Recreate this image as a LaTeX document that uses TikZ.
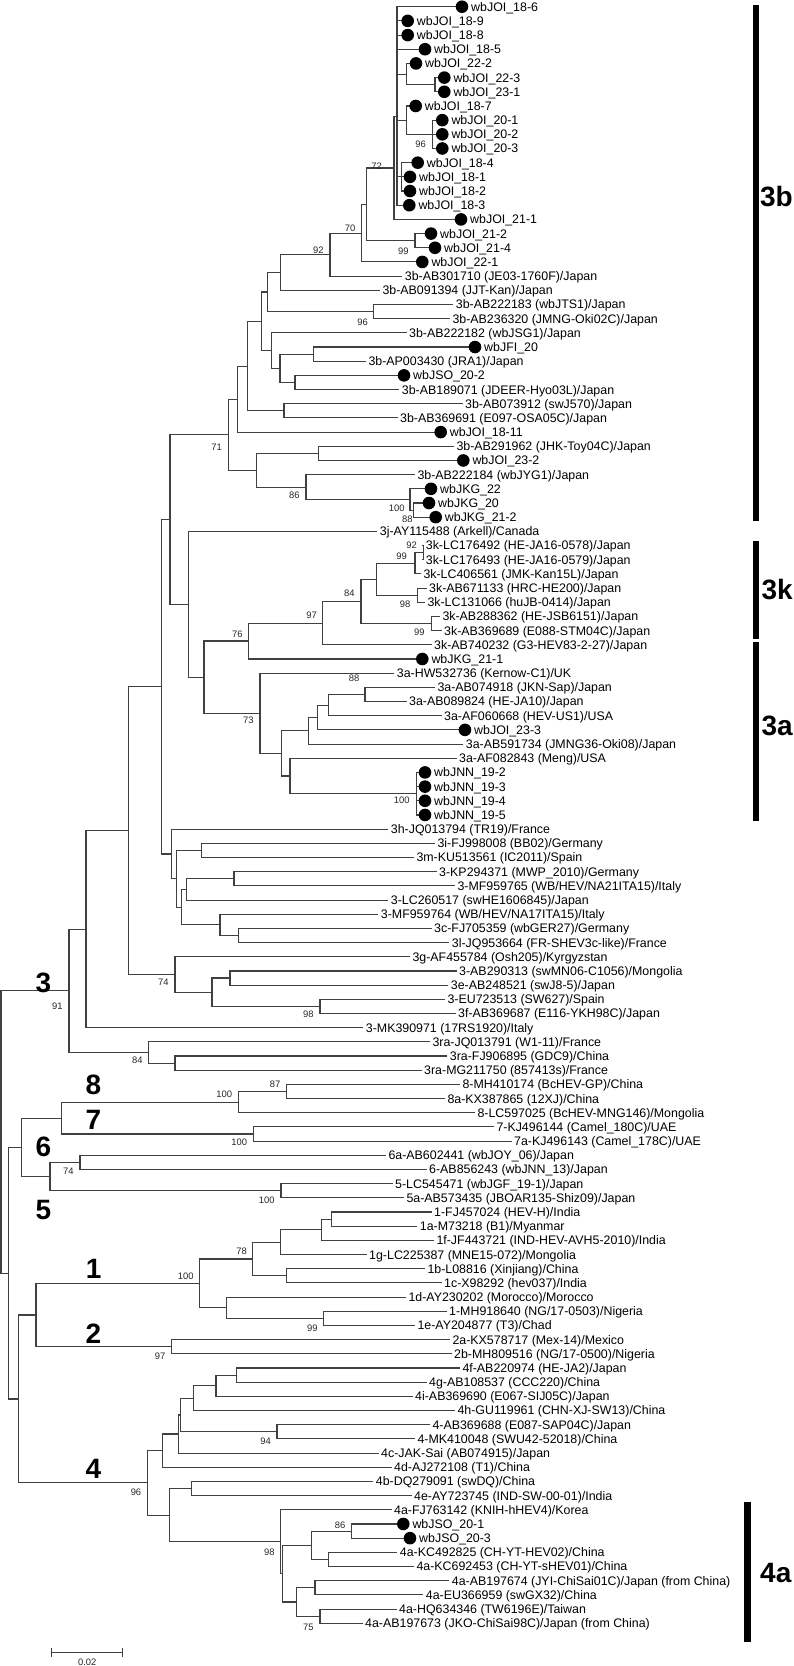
\documentclass[tikz,border=0pt]{standalone}
\usepackage{fontspec}
\setmainfont{Liberation Sans}
\usetikzlibrary{calc,backgrounds}
\tikzset{
  br/.style={draw=black!75, line width=1.1pt, line cap=rect},
  lab/.style={anchor=west, inner xsep=3pt, inner ysep=0pt, text height=8.9pt, text depth=0pt, font=\fontsize{12.4}{14}\selectfont},
  dot/.style={circle, fill=black, draw=none, inner sep=0pt, minimum size=12.6pt},
  bs/.style={font=\fontsize{9.4}{11}\selectfont, text=black!85, inner sep=0pt},
  big/.style={font=\fontsize{28}{30}\selectfont\bfseries, inner sep=0pt},
  cbar/.style={line width=6.5pt, draw=black},
}
\newcommand\ylf[1]{6.7+(#1-1)*14.18}
\newcommand\leafT[3]{\coordinate (l#1) at ({#2-4},{\ylf{#1}}); \node[lab] (t#1) at (l#1) {#3};}
\newcommand\leafC[3]{\coordinate (l#1) at (#2,{\ylf{#1}}); \node[dot] (d#1) at (l#1) {}; \node[lab] (t#1) at ([xshift=6pt]l#1) {#3};}
\newcommand\inode[4]{\path let \p1=(#3), \p2=(#4) in coordinate (#1) at (#2pt,{0.5*\y1+0.5*\y2});}
\newcommand\edges[2]{\foreach \ch in {#2} {\draw[br] (#1) |- (\ch);}}
\begin{document}
\begin{tikzpicture}[x=1pt,y=-1pt]
\useasboundingbox (0,0) rectangle (794,1666);
% ---------------- leaves ----------------
\leafC{1}{462}{wbJOI\_18-6}
\leafC{2}{407.7}{wbJOI\_18-9}
\leafC{3}{407.7}{wbJOI\_18-8}
\leafC{4}{425}{wbJOI\_18-5}
\leafC{5}{416}{wbJOI\_22-2}
\leafC{6}{444.3}{wbJOI\_22-3}
\leafC{7}{444.3}{wbJOI\_23-1}
\leafC{8}{415.7}{wbJOI\_18-7}
\leafC{9}{442.3}{wbJOI\_20-1}
\leafC{10}{442.3}{wbJOI\_20-2}
\leafC{11}{442.3}{wbJOI\_20-3}
\leafC{12}{417.7}{wbJOI\_18-4}
\leafC{13}{410}{wbJOI\_18-1}
\leafC{14}{410}{wbJOI\_18-2}
\leafC{15}{409.3}{wbJOI\_18-3}
\leafC{16}{461}{wbJOI\_21-1}
\leafC{17}{431}{wbJOI\_21-2}
\leafC{18}{435}{wbJOI\_21-4}
\leafC{19}{422.3}{wbJOI\_22-1}
\leafT{20}{405.7}{3b-AB301710 (JE03-1760F)/Japan}
\leafT{21}{383.3}{3b-AB091394 (JJT-Kan)/Japan}
\leafT{22}{456.7}{3b-AB222183 (wbJTS1)/Japan}
\leafT{23}{453.3}{3b-AB236320 (JMNG-Oki02C)/Japan}
\leafT{24}{410}{3b-AB222182 (wbJSG1)/Japan}
\leafC{25}{475}{wbJFI\_20}
\leafT{26}{369.3}{3b-AP003430 (JRA1)/Japan}
\leafC{27}{404}{wbJSO\_20-2}
\leafT{28}{402.7}{3b-AB189071 (JDEER-Hyo03L)/Japan}
\leafT{29}{466}{3b-AB073912 (swJ570)/Japan}
\leafT{30}{401}{3b-AB369691 (E097-OSA05C)/Japan}
\leafC{31}{440.7}{wbJOI\_18-11}
\leafT{32}{457.3}{3b-AB291962 (JHK-Toy04C)/Japan}
\leafC{33}{463.3}{wbJOI\_23-2}
\leafT{34}{418.3}{3b-AB222184 (wbJYG1)/Japan}
\leafC{35}{431}{wbJKG\_22}
\leafC{36}{429}{wbJKG\_20}
\leafC{37}{435.7}{wbJKG\_21-2}
\leafT{38}{380.7}{3j-AY115488 (Arkell)/Canada}
\leafT{39}{426.7}{3k-LC176492 (HE-JA16-0578)/Japan}
\leafT{40}{426.7}{3k-LC176493 (HE-JA16-0579)/Japan}
\leafT{41}{424.3}{3k-LC406561 (JMK-Kan15L)/Japan}
\leafT{42}{430}{3k-AB671133 (HRC-HE200)/Japan}
\leafT{43}{428.3}{3k-LC131066 (huJB-0414)/Japan}
\leafT{44}{443.3}{3k-AB288362 (HE-JSB6151)/Japan}
\leafT{45}{445}{3k-AB369689 (E088-STM04C)/Japan}
\leafT{46}{435}{3k-AB740232 (G3-HEV83-2-27)/Japan}
\leafC{47}{422.3}{wbJKG\_21-1}
\leafT{48}{397.7}{3a-HW532736 (Kernow-C1)/UK}
\leafT{49}{438.3}{3a-AB074918 (JKN-Sap)/Japan}
\leafT{50}{410}{3a-AB089824 (HE-JA10)/Japan}
\leafT{51}{445}{3a-AF060668 (HEV-US1)/USA}
\leafC{52}{465}{wbJOI\_23-3}
\leafT{53}{466.7}{3a-AB591734 (JMNG36-Oki08)/Japan}
\leafT{54}{460}{3a-AF082843 (Meng)/USA}
\leafC{55}{425}{wbJNN\_19-2}
\leafC{56}{425}{wbJNN\_19-3}
\leafC{57}{425}{wbJNN\_19-4}
\leafC{58}{425}{wbJNN\_19-5}
\leafT{59}{391.7}{3h-JQ013794 (TR19)/France}
\leafT{60}{438.3}{3i-FJ998008 (BB02)/Germany}
\leafT{61}{417.3}{3m-KU513561 (IC2011)/Spain}
\leafT{62}{440}{3-KP294371 (MWP\_2010)/Germany}
\leafT{63}{458.3}{3-MF959765 (WB/HEV/NA21ITA15)/Italy}
\leafT{64}{391.7}{3-LC260517 (swHE1606845)/Japan}
\leafT{65}{381.7}{3-MF959764 (WB/HEV/NA17ITA15)/Italy}
\leafT{66}{435}{3c-FJ705359 (wbGER27)/Germany}
\leafT{67}{452.7}{3l-JQ953664 (FR-SHEV3c-like)/France}
\leafT{68}{413.3}{3g-AF455784 (Osh205)/Kyrgyzstan}
\leafT{69}{460}{3-AB290313 (swMN06-C1056)/Mongolia}
\leafT{70}{451.7}{3e-AB248521 (swJ8-5)/Japan}
\leafT{71}{448.3}{3-EU723513 (SW627)/Spain}
\leafT{72}{459}{3f-AB369687 (E116-YKH98C)/Japan}
\leafT{73}{366.7}{3-MK390971 (17RS1920)/Italy}
\leafT{74}{433.3}{3ra-JQ013791 (W1-11)/France}
\leafT{75}{450.7}{3ra-FJ906895 (GDC9)/China}
\leafT{76}{425}{3ra-MG211750 (857413s)/France}
\leafT{77}{463.3}{8-MH410174 (BcHEV-GP)/China}
\leafT{78}{448.3}{8a-KX387865 (12XJ)/China}
\leafT{79}{478.3}{8-LC597025 (BcHEV-MNG146)/Mongolia}
\leafT{80}{497.3}{7-KJ496144 (Camel\_180C)/UAE}
\leafT{81}{515}{7a-KJ496143 (Camel\_178C)/UAE}
\leafT{82}{389.3}{6a-AB602441 (wbJOY\_06)/Japan}
\leafT{83}{430}{6-AB856243 (wbJNN\_13)/Japan}
\leafT{84}{396}{5-LC545471 (wbJGF\_19-1)/Japan}
\leafT{85}{407.3}{5a-AB573435 (JBOAR135-Shiz09)/Japan}
\leafT{86}{435}{1-FJ457024 (HEV-H)/India}
\leafT{87}{420.7}{1a-M73218 (B1)/Myanmar}
\leafT{88}{437.3}{1f-JF443721 (IND-HEV-AVH5-2010)/India}
\leafT{89}{370}{1g-LC225387 (MNE15-072)/Mongolia}
\leafT{90}{428.3}{1b-L08816 (Xinjiang)/China}
\leafT{91}{445}{1c-X98292 (hev037)/India}
\leafT{92}{409.3}{1d-AY230202 (Morocco)/Morocco}
\leafT{93}{450}{1-MH918640 (NG/17-0503)/Nigeria}
\leafT{94}{418.3}{1e-AY204877 (T3)/Chad}
\leafT{95}{453.3}{2a-KX578717 (Mex-14)/Mexico}
\leafT{96}{455}{2b-MH809516 (NG/17-0500)/Nigeria}
\leafT{97}{463.3}{4f-AB220974 (HE-JA2)/Japan}
\leafT{98}{430}{4g-AB108537 (CCC220)/China}
\leafT{99}{416}{4i-AB369690 (E067-SIJ05C)/Japan}
\leafT{100}{458.3}{4h-GU119961 (CHN-XJ-SW13)/China}
\leafT{101}{433.3}{4-AB369688 (E087-SAP04C)/Japan}
\leafT{102}{418.3}{4-MK410048 (SWU42-52018)/China}
\leafT{103}{382}{4c-JAK-Sai (AB074915)/Japan}
\leafT{104}{395}{4d-AJ272108 (T1)/China}
\leafT{105}{376.7}{4b-DQ279091 (swDQ)/China}
\leafT{106}{415}{4e-AY723745 (IND-SW-00-01)/India}
\leafT{107}{395}{4a-FJ763142 (KNIH-hHEV4)/Korea}
\leafC{108}{403.3}{wbJSO\_20-1}
\leafC{109}{410}{wbJSO\_20-3}
\leafT{110}{400.7}{4a-KC492825 (CH-YT-HEV02)/China}
\leafT{111}{417.3}{4a-KC692453 (CH-YT-sHEV01)/China}
\leafT{112}{452.7}{4a-AB197674 (JYI-ChiSai01C)/Japan (from China)}
\leafT{113}{426.7}{4a-EU366959 (swGX32)/China}
\leafT{114}{400}{4a-HQ634346 (TW6196E)/Taiwan}
\leafT{115}{366}{4a-AB197673 (JKO-ChiSai98C)/Japan (from China)}
% ---------------- internal nodes ----------------
\inode{nA1}{397}{l1}{l4}
\inode{nB1}{435}{l6}{l7}
\inode{nB2}{406.7}{l5}{nB1}
\inode{nC1}{432.7}{l9}{l11}
\inode{nC2}{406.7}{l8}{nC1}
\inode{nD1}{401.7}{l12}{l14}
\inode{nX}{397}{nA1}{l15}
\inode{nT72}{394}{nX}{l16}
\inode{nE}{415}{l17}{l18}
\inode{nF}{366.7}{nT72}{nE}
\inode{nG70}{361.7}{nF}{l19}
\inode{nG}{330}{nG70}{l20}
\inode{nH92}{280.7}{nG}{l21}
\inode{nI96}{373.3}{l22}{l23}
\inode{nH}{267.5}{nH92}{nI96}
\inode{nI}{313.3}{l25}{l26}
\inode{nJ}{295}{l27}{l28}
\inode{nK}{280}{nI}{nJ}
\inode{nL}{271.7}{l24}{nK}
\inode{nM}{261.5}{nH}{nL}
\inode{nN}{284}{l29}{l30}
\inode{nO}{247.7}{nM}{nN}
\inode{nP}{237.7}{nO}{l31}
\inode{nQ}{318.3}{l32}{l33}
\inode{nJKGb}{413.3}{l36}{l37}
\inode{nJKG}{410}{l35}{nJKGb}
\inode{nR86}{306}{l34}{nJKG}
\inode{nR}{256.7}{nQ}{nR86}
\inode{nS}{228.3}{nP}{nR}
\inode{nk92}{423.3}{l39}{l40}
\inode{nk99}{415}{nk92}{l41}
\inode{nk98}{417.3}{l42}{l43}
\inode{nkT}{376.7}{nk99}{nk98}
\inode{nk99b}{431.7}{l44}{l45}
\inode{nk84}{361}{nkT}{nk99b}
\inode{nk97}{322.7}{nk84}{l46}
\inode{nk76}{248.3}{nk97}{l47}
\inode{na88}{365}{l49}{l50}
\inode{naU}{328.3}{na88}{l51}
\inode{naV}{317.5}{naU}{l52}
\inode{naW}{308.3}{naV}{l53}
\inode{naJNN}{416.7}{l55}{l58}
\inode{naY}{290}{l54}{naJNN}
\inode{naZ}{281.7}{naW}{naY}
\inode{na73}{260}{l48}{naZ}
\inode{n204}{204}{nk76}{na73}
\inode{n188}{188.3}{l38}{n204}
\inode{n170}{170}{nS}{n188}
\inode{n201}{201.7}{l60}{l61}
\inode{n234}{234}{l62}{l63}
\inode{n186}{186.7}{n234}{l64}
\inode{n238}{238.3}{l66}{l67}
\inode{n220}{220}{l65}{n238}
\inode{n181}{181.7}{n186}{n220}
\inode{n176}{176.7}{n201}{n181}
\inode{n171}{171.7}{l59}{n176}
\inode{n161}{161.7}{n170}{n171}
\inode{n230}{230}{l69}{l70}
\inode{n320}{320}{l71}{l72}
\inode{n212}{212}{n230}{n320}
\inode{n175}{175}{l68}{n212}
\inode{n128}{128.3}{n161}{n175}
\inode{n86b}{86}{n128}{l73}
\inode{nra2}{175}{l75}{l76}
\inode{nra}{148.7}{l74}{nra2}
\inode{nG3}{69}{n86b}{nra}
\inode{n87}{286.7}{l77}{l78}
\inode{nG8}{238.3}{n87}{l79}
\inode{nG7}{253.3}{l80}{l81}
\inode{n87g}{61.7}{nG8}{nG7}
\inode{nG6}{80}{l82}{l83}
\inode{nG5}{281}{l84}{l85}
\inode{n65}{50}{nG6}{nG5}
\inode{n8765}{21.7}{n87g}{n65}
\inode{n1a}{331.7}{l86}{l87}
\inode{n1b}{321.7}{n1a}{l88}
\inode{n1c}{280.7}{n1b}{l89}
\inode{n1d}{286.7}{l90}{l91}
\inode{n78}{252.7}{n1c}{n1d}
\inode{n1e}{323.3}{l93}{l94}
\inode{n1f}{226.7}{l92}{n1e}
\inode{nG1}{199.3}{n78}{n1f}
\inode{nG2}{171.7}{l95}{l96}
\inode{n12}{36}{nG1}{nG2}
\inode{n4g}{236.7}{l97}{l98}
\inode{n4h}{216}{n4g}{l99}
\inode{n4i}{193.3}{n4h}{l100}
\inode{n94}{277}{l101}{l102}
\inode{n4j}{180.7}{n4i}{n94}
\inode{n4k}{178.7}{n4j}{l103}
\inode{n4l}{162.3}{n4k}{l104}
\inode{n4b}{191.7}{l105}{l106}
\inode{n86c}{351.7}{l108}{l109}
\inode{n4m}{328.3}{l110}{l111}
\inode{n4n}{311.7}{n86c}{n4m}
\inode{n4o}{315}{l112}{l113}
\inode{n75}{320}{l114}{l115}
\inode{n4p}{296.7}{n4o}{n75}
\inode{n4q}{282.7}{n4n}{n4p}
\inode{n98}{280.7}{l107}{n4q}
\inode{n4r}{169.7}{n4b}{n98}
\inode{nG4}{147.3}{n4l}{n4r}
\inode{n124}{18.3}{n12}{nG4}
\inode{nAll}{8.3}{n8765}{n124}
\inode{root}{1}{nG3}{nAll}
% ---------------- branches ----------------
\begin{scope}[on background layer]
\edges{nA1}{l1,l2,l3,l4}
\edges{nB1}{l6,l7}
\edges{nB2}{l5,nB1}
\edges{nC1}{l9,l10,l11}
\edges{nC2}{l8,nC1}
\edges{nD1}{l12,l13,l14}
\edges{nX}{nA1,nB2,nC2,nD1,l15}
\edges{nT72}{nX,l16}
\edges{nE}{l17,l18}
\edges{nF}{nT72,nE}
\edges{nG70}{nF,l19}
\edges{nG}{nG70,l20}
\edges{nH92}{nG,l21}
\edges{nI96}{l22,l23}
\edges{nH}{nH92,nI96}
\edges{nI}{l25,l26}
\edges{nJ}{l27,l28}
\edges{nK}{nI,nJ}
\edges{nL}{l24,nK}
\edges{nM}{nH,nL}
\edges{nN}{l29,l30}
\edges{nO}{nM,nN}
\edges{nP}{nO,l31}
\edges{nQ}{l32,l33}
\edges{nJKGb}{l36,l37}
\edges{nJKG}{l35,nJKGb}
\edges{nR86}{l34,nJKG}
\edges{nR}{nQ,nR86}
\edges{nS}{nP,nR}
\edges{nk92}{l39,l40}
\edges{nk99}{nk92,l41}
\edges{nk98}{l42,l43}
\edges{nkT}{nk99,nk98}
\edges{nk99b}{l44,l45}
\edges{nk84}{nkT,nk99b}
\edges{nk97}{nk84,l46}
\edges{nk76}{nk97,l47}
\edges{na88}{l49,l50}
\edges{naU}{na88,l51}
\edges{naV}{naU,l52}
\edges{naW}{naV,l53}
\edges{naJNN}{l55,l56,l57,l58}
\edges{naY}{l54,naJNN}
\edges{naZ}{naW,naY}
\edges{na73}{l48,naZ}
\edges{n204}{nk76,na73}
\edges{n188}{l38,n204}
\edges{n170}{nS,n188}
\edges{n201}{l60,l61}
\edges{n234}{l62,l63}
\edges{n186}{n234,l64}
\edges{n238}{l66,l67}
\edges{n220}{l65,n238}
\edges{n181}{n186,n220}
\edges{n176}{n201,n181}
\edges{n171}{l59,n176}
\edges{n161}{n170,n171}
\edges{n230}{l69,l70}
\edges{n320}{l71,l72}
\edges{n212}{n230,n320}
\edges{n175}{l68,n212}
\edges{n128}{n161,n175}
\edges{n86b}{n128,l73}
\edges{nra2}{l75,l76}
\edges{nra}{l74,nra2}
\edges{nG3}{n86b,nra}
\edges{n87}{l77,l78}
\edges{nG8}{n87,l79}
\edges{nG7}{l80,l81}
\edges{n87g}{nG8,nG7}
\edges{nG6}{l82,l83}
\edges{nG5}{l84,l85}
\edges{n65}{nG6,nG5}
\edges{n8765}{n87g,n65}
\edges{n1a}{l86,l87}
\edges{n1b}{n1a,l88}
\edges{n1c}{n1b,l89}
\edges{n1d}{l90,l91}
\edges{n78}{n1c,n1d}
\edges{n1e}{l93,l94}
\edges{n1f}{l92,n1e}
\edges{nG1}{n78,n1f}
\edges{nG2}{l95,l96}
\edges{n12}{nG1,nG2}
\edges{n4g}{l97,l98}
\edges{n4h}{n4g,l99}
\edges{n4i}{n4h,l100}
\edges{n94}{l101,l102}
\edges{n4j}{n4i,n94}
\edges{n4k}{n4j,l103}
\edges{n4l}{n4k,l104}
\edges{n4b}{l105,l106}
\edges{n86c}{l108,l109}
\edges{n4m}{l110,l111}
\edges{n4n}{n86c,n4m}
\edges{n4o}{l112,l113}
\edges{n75}{l114,l115}
\edges{n4p}{n4o,n75}
\edges{n4q}{n4n,n4p}
\edges{n98}{l107,n4q}
\edges{n4r}{n4b,n98}
\edges{nG4}{n4l,n4r}
\edges{n124}{n12,nG4}
\edges{nAll}{n8765,n124}
\edges{root}{nG3,nAll}
\end{scope}
% ---------------- bootstrap values ----------------
\node[bs] (s1) at (376.7,166.7) {72};
\node[bs] (s2) at (420.7,144) {96};
\node[bs] (s3) at (350,228.3) {70};
\node[bs] (s4) at (403.3,251.7) {99};
\node[bs] (s5) at (318.3,250) {92};
\node[bs] (s6) at (362.7,322.3) {96};
\node[bs] (s7) at (216.7,447.7) {71};
\node[bs] (s8) at (294.3,495.7) {86};
\node[bs] (s9) at (396.7,508.3) {100};
\node[bs] (s10) at (407.3,519.3) {88};
\node[bs] (s11) at (411.7,545) {92};
\node[bs] (s12) at (401.7,556) {99};
\node[bs] (s13) at (349.3,593.3) {84};
\node[bs] (s14) at (405,604) {98};
\node[bs] (s15) at (311.7,615.7) {97};
\node[bs] (s16) at (419.3,632.3) {99};
\node[bs] (s17) at (237.3,634) {76};
\node[bs] (s18) at (354,678.3) {88};
\node[bs] (s19) at (248.3,720.7) {73};
\node[bs] (s20) at (401.7,800.7) {100};
\node[bs] (s21) at (163.3,982.7) {74};
\node[bs] (s22) at (308.3,1014.3) {98};
\node[bs] (s23) at (57.3,1006.7) {91};
\node[bs] (s24) at (137.3,1060.7) {84};
\node[bs] (s25) at (275,1084) {87};
\node[bs] (s26) at (224.3,1094.3) {100};
\node[bs] (s27) at (239.3,1142.7) {100};
\node[bs] (s28) at (68.3,1171.7) {74};
\node[bs] (s29) at (266.7,1200) {100};
\node[bs] (s30) at (241.7,1251.7) {78};
\node[bs] (s31) at (185.7,1276) {100};
\node[bs] (s32) at (312.3,1328.3) {99};
\node[bs] (s33) at (160,1356.7) {97};
\node[bs] (s34) at (265.7,1441.7) {94};
\node[bs] (s35) at (136,1492.7) {96};
\node[bs] (s36) at (340,1525) {86};
\node[bs] (s37) at (269.3,1552.7) {98};
\node[bs] (s38) at (308.3,1627.3) {75};
% ---------------- genotype labels ----------------
\node[big] (g3) at (43.3,982.7) {3};
\node[big] (g8) at (93.3,1085) {8};
\node[big] (g7) at (93.3,1119.7) {7};
\node[big] (g6) at (43.3,1147) {6};
\node[big] (g5) at (43.3,1209.8) {5};
\node[big] (g1) at (93.7,1268.8) {1};
\node[big] (g2) at (93.3,1333.7) {2};
\node[big] (g4) at (93.3,1469.2) {4};
% ---------------- subtype bars ----------------
\coordinate (b3bt) at (756,5.3);   \coordinate (b3bb) at (756,520.8);
\coordinate (b3kt) at (756,541);   \coordinate (b3kb) at (756,639);
\coordinate (b3at) at (756,642);   \coordinate (b3ab) at (756,820.6);
\coordinate (b4at) at (747.3,1501.7); \coordinate (b4ab) at (747.3,1641.7);
\draw[cbar] (b3bt) -- (b3bb);
\draw[cbar] (b3kt) -- (b3kb);
\draw[cbar] (b3at) -- (b3ab);
\draw[cbar] (b4at) -- (b4ab);
\node[big, anchor=east] (L3b) at (793,197) {3b};
\node[big, anchor=east] (L3k) at (793,590) {3k};
\node[big, anchor=east] (L3a) at (793,726) {3a};
\node[big, anchor=west] (L4a) at (760,1573.3) {4a};
% ---------------- scale bar ----------------
\coordinate (sL) at (51.7,1652.3);
\coordinate (sR) at (122.7,1652.3);
\draw[br, line cap=butt] (sL) -- (sR);
\draw[br, line cap=butt] ([yshift=4.2pt]sL) -- ([yshift=-4.2pt]sL);
\draw[br, line cap=butt] ([yshift=4.2pt]sR) -- ([yshift=-4.2pt]sR);
\node[bs] (sT) at (87.3,1662.5) {0.02};
\end{tikzpicture}
\end{document}
